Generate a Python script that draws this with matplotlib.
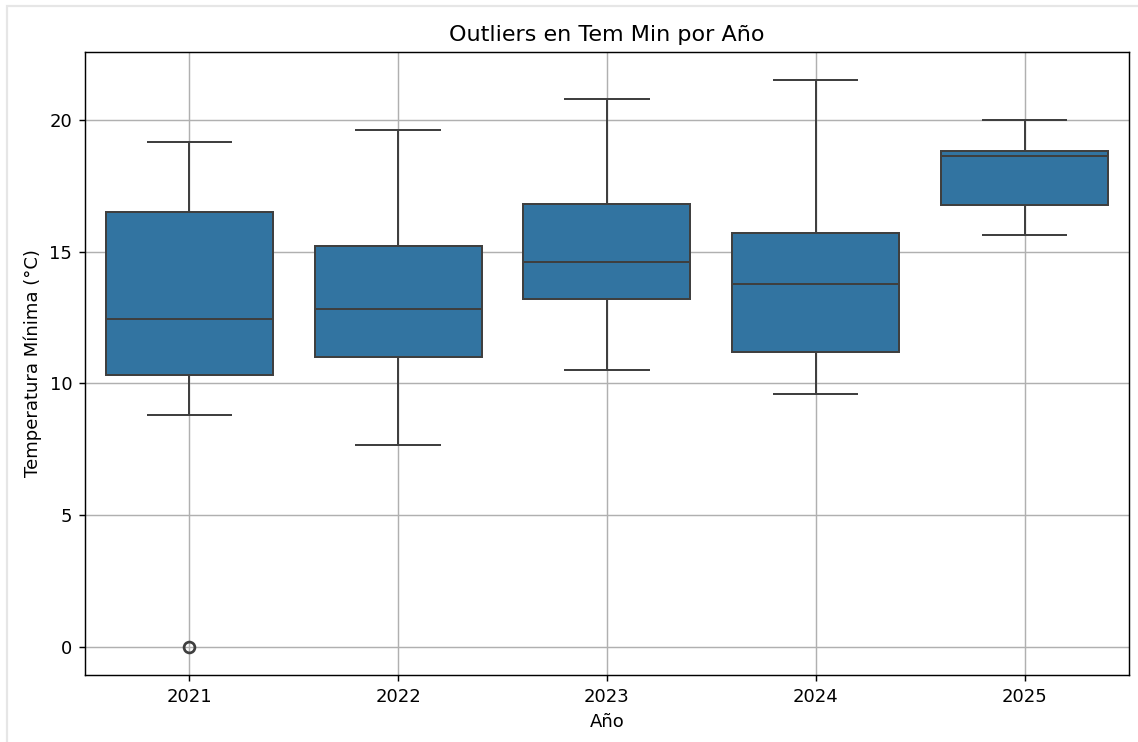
import numpy as np
import matplotlib.pyplot as plt
from matplotlib.patches import Rectangle

# resumen por año de la temperatura mínima (°C)
anios = ['2021', '2022', '2023', '2024', '2025']
bigote_inf = [8.8, 7.65, 10.5, 9.6, 15.62]
q1 = [10.3, 11.0, 13.2, 11.2, 16.78]
mediana = [12.42, 12.8, 14.6, 13.75, 18.61]
q3 = [16.5, 15.2, 16.8, 15.7, 18.82]
bigote_sup = [19.17, 19.6, 20.8, 21.5, 20.0]
atipicos = [[0.0], [], [], [], []]

color_caja = '#3274a1'
color_linea = '#3f3f3f'

stats = []
for i in range(len(anios)):
    stats.append({'label': anios[i], 'whislo': bigote_inf[i], 'q1': q1[i],
                  'med': mediana[i], 'q3': q3[i], 'whishi': bigote_sup[i],
                  'fliers': np.array(atipicos[i])})

dpi = 130
fig = plt.figure(figsize=(1138 / dpi, 742 / dpi), dpi=dpi)
ax = fig.add_axes([0.0747, 0.0903, 0.9173, 0.8397])

ax.bxp(stats, positions=range(len(anios)), widths=0.8, patch_artist=True,
       boxprops=dict(facecolor=color_caja, edgecolor=color_linea, linewidth=1.1),
       medianprops=dict(color=color_linea, linewidth=1.1),
       whiskerprops=dict(color=color_linea, linewidth=1.1),
       capprops=dict(color=color_linea, linewidth=1.1),
       flierprops=dict(marker='o', markerfacecolor='none', markeredgecolor=color_linea,
                       markersize=6, markeredgewidth=1.5),
       capwidths=0.4)

ax.set_xlim(-0.5, len(anios) - 0.5)
ax.margins(y=0.05)
ax.autoscale(axis='y')
ax.set_yticks([0, 5, 10, 15, 20])
ax.grid(True, color='#b0b0b0', linewidth=0.8)
ax.set_axisbelow(True)

ax.set_title('Outliers en Tem Min por Año', fontsize=12.3)
ax.set_xlabel('Año')
ax.set_ylabel('Temperatura Mínima (°C)')

# marco claro alrededor de la salida
fig.patches.append(Rectangle((7 / 1138, -0.1), 1.2, 1 - 6 / 742 + 0.1,
                             transform=fig.transFigure, fill=False,
                             edgecolor='#e6e6e6', linewidth=1.2))

fig.savefig('out.png', dpi=dpi)
